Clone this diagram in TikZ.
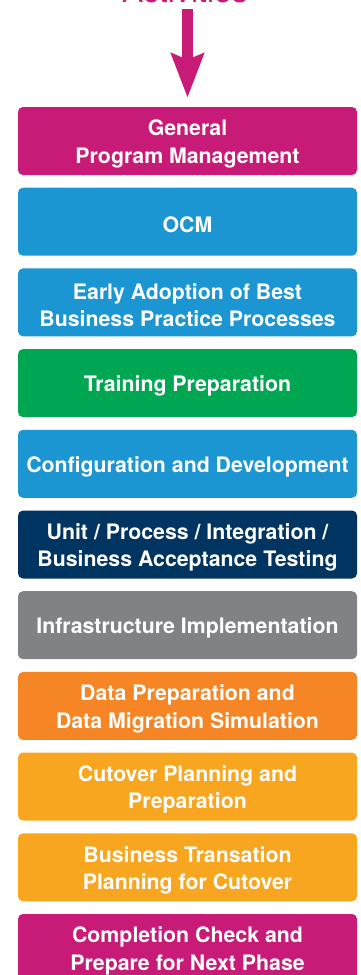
\documentclass[tikz,border=0pt]{standalone}
\usepackage{fontspec}
\setmainfont{TeX Gyre Heros}
\usetikzlibrary{arrows.meta}
\definecolor{cmag}{HTML}{C81B77}
\definecolor{cblue}{HTML}{1B96D3}
\definecolor{cgreen}{HTML}{00A652}
\definecolor{cnavy}{HTML}{003461}
\definecolor{cgray}{HTML}{808285}
\definecolor{corange}{HTML}{F58525}
\definecolor{cyellow}{HTML}{F8A61F}
\tikzset{
  actbox/.style={rounded corners=5pt, minimum width=339pt, minimum height=68pt,
    inner sep=0pt},
  acttext/.style={inner sep=0pt, align=center, text=white, yshift=-3pt,
    font=\fontsize{21.3}{27.5}\selectfont\bfseries},
  bigarrow/.style={draw=cmag, line width=11pt,
    -{Stealth[length=44pt,width=32pt,inset=6pt]}}
}
\begin{document}
\begin{tikzpicture}[x=1pt,y=-1pt]
\useasboundingbox (0,0) rectangle (361,975);
\clip (0,0) rectangle (361,975);
\node[anchor=base, text=cmag, font=\fontsize{32}{36}\selectfont, inner sep=0pt] (title) at (185,2.5) {Activities};
\coordinate (astart) at (187.5,9);
\node[actbox, fill=cmag,    label={[acttext]center:{General\\Program Management}}] (b1) at (187.5,141.0) {};
\node[actbox, fill=cblue,   label={[acttext]center:{OCM}}] (b2) at (187.5,221.7) {};
\node[actbox, fill=cblue,   label={[acttext]center:{Early Adoption of Best\\Business Practice Processes}}] (b3) at (187.5,302.4) {};
\node[actbox, fill=cgreen,  label={[acttext]center:{Training Preparation}}] (b4) at (187.5,383.1) {};
\node[actbox, fill=cblue,   label={[acttext]center:{Configuration and Development}}] (b5) at (187.5,463.8) {};
\node[actbox, fill=cnavy,   label={[acttext]center:{Unit / Process / Integration /\\Business Acceptance Testing}}] (b6) at (187.5,544.5) {};
\node[actbox, fill=cgray,   label={[acttext]center:{Infrastructure Implementation}}] (b7) at (187.5,625.2) {};
\node[actbox, fill=corange, label={[acttext]center:{Data Preparation and\\Data Migration Simulation}}] (b8) at (187.5,705.9) {};
\node[actbox, fill=cyellow, label={[acttext]center:{Cutover Planning and\\Preparation}}] (b9) at (187.5,786.6) {};
\node[actbox, fill=cyellow, label={[acttext]center:{Business Transation\\Planning for Cutover}}] (b10) at (187.5,867.3) {};
\node[actbox, fill=cmag,    label={[acttext]center:{Completion Check and\\Prepare for Next Phase}}] (b11) at (187.5,948.0) {};
\draw[bigarrow] (astart) -- ([yshift=9pt]b1.north);
\end{tikzpicture}
\end{document}
